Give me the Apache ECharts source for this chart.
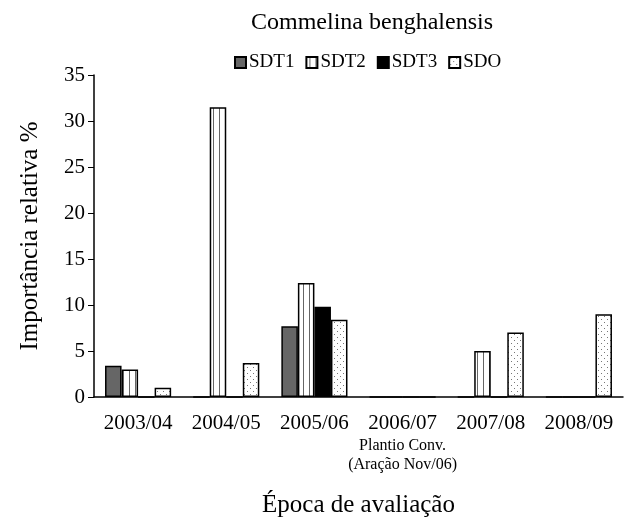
<!DOCTYPE html>
<html>
<head>
    <meta charset="UTF-8">
    <title>Commelina benghalensis</title>
    <script src="https://cdn.jsdelivr.net/npm/echarts/dist/echarts.min.js"></script>
</head>
<body style="margin:0">
    <div id="main" style="width: 624px;height:521px;"></div>
    <script type="text/javascript">
        // dados
        var categories = ['2003/04', '2004/05', '2005/06', '2006/07', '2007/08', '2008/09'];
        var sdt1 = [3.4, 0, 7.7, 0, 0, 0];
        var sdt2 = [3.0, 31.5, 12.4, 0, 5.0, 0];
        var sdt3 = [0, 0, 9.8, 0, 0, 0];
        var sdo = [1.0, 3.7, 8.4, 0, 7.0, 9.0];
        var yTicks = [0, 5, 10, 15, 20, 25, 30, 35];

        var serif = '"Liberation Serif", "DejaVu Serif", serif';

        // padrão listrado vertical (SDT2)
        function stripePattern() {
            var c = document.createElement('canvas');
            c.width = 6; c.height = 4;
            var ctx = c.getContext('2d');
            ctx.fillStyle = '#fff';
            ctx.fillRect(0, 0, 6, 4);
            ctx.fillStyle = '#666';
            ctx.fillRect(3, 0, 1, 4);
            return c;
        }
        // padrão pontilhado (SDO)
        function dotPattern() {
            var c = document.createElement('canvas');
            c.width = 6; c.height = 6;
            var ctx = c.getContext('2d');
            ctx.fillStyle = '#fff';
            ctx.fillRect(0, 0, 6, 6);
            ctx.fillStyle = '#777';
            ctx.fillRect(1, 1, 1, 1);
            ctx.fillRect(4, 4, 1, 1);
            return c;
        }

        var myChart = echarts.init(document.getElementById('main'));

        function bar(name, data, color) {
            return {
                name: name,
                type: 'bar',
                data: data,
                barGap: '0%',
                barCategoryGap: '25%',
                itemStyle: { color: color, borderColor: '#000', borderWidth: 1.5 }
            };
        }

        var option = {
            backgroundColor: '#fff',
            textStyle: { fontFamily: serif, color: '#000' },
            title: {
                text: 'Commelina benghalensis',
                left: 367,
                textAlign: 'center',
                top: 6,
                textStyle: { fontFamily: serif, fontSize: 24, fontWeight: 'normal', color: '#000' }
            },
            legend: {
                top: 48,
                left: 229,
                itemWidth: 11,
                itemHeight: 11,
                itemGap: 11,
                icon: 'rect',
                textStyle: { fontFamily: serif, fontSize: 19, color: '#000', padding: [0, 0, 0, -2] },
                data: ['SDT1', 'SDT2', 'SDT3', 'SDO']
            },
            grid: { left: 94, right: 1, top: 75, bottom: 124, containLabel: false, outerBoundsMode: 'none' },
            xAxis: {
                type: 'category',
                data: categories,
                name: 'Época de avaliação',
                nameLocation: 'middle',
                nameGap: 96,
                nameTextStyle: { fontFamily: serif, fontSize: 25, color: '#000' },
                axisLine: { lineStyle: { color: '#000', width: 1.5 } },
                axisTick: { length: 6, lineStyle: { color: '#000' } },
                axisLabel: {
                    interval: 0,
                    fontFamily: serif,
                    fontSize: 21,
                    lineHeight: 26,
                    color: '#000',
                    margin: 13,
                    formatter: function (v) {
                        if (v === '2006/07') {
                            return v + '\n{s|Plantio Conv.}\n{s|(Aração Nov/06)}';
                        }
                        return v;
                    },
                    rich: {
                        s: { fontFamily: serif, fontSize: 16, color: '#000', lineHeight: 19 }
                    }
                }
            },
            yAxis: {
                type: 'value',
                min: yTicks[0],
                max: yTicks[yTicks.length - 1],
                interval: 5,
                name: 'Importância relativa %',
                nameLocation: 'middle',
                nameGap: 51,
                nameTextStyle: { fontFamily: serif, fontSize: 25, color: '#000' },
                axisLine: { show: true, lineStyle: { color: '#000', width: 1.5 } },
                axisTick: { show: true, length: 6, lineStyle: { color: '#000' } },
                axisLabel: { fontFamily: serif, fontSize: 21, color: '#000', margin: 9 },
                splitLine: { show: false }
            },
            series: [
                bar('SDT1', sdt1, '#666'),
                bar('SDT2', sdt2, { image: stripePattern(), repeat: 'repeat' }),
                bar('SDT3', sdt3, '#000'),
                bar('SDO', sdo, { image: dotPattern(), repeat: 'repeat' })
            ]
        };

        myChart.setOption(option);
    </script>
</body>
</html>
